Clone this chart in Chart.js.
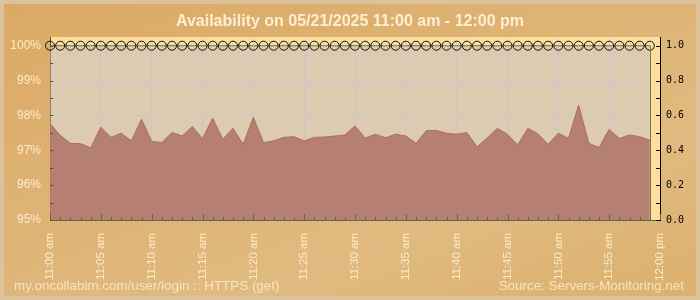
<!DOCTYPE html>
<html>
<head>
<meta charset="utf-8">
<script src="https://cdn.jsdelivr.net/npm/chart.js@4/dist/chart.umd.min.js"></script>
<style>
  html, body { margin: 0; padding: 0; background: #dcb372; }
  #wrap {
    position: relative; width: 700px; height: 300px; box-sizing: border-box;
    border: 4px solid #dcc29a;
    background: linear-gradient(160deg, #dba965 0%, #deb374 40%, #e0ba80 70%, #dcb06e 100%);
    overflow: hidden;
  }
  #c { position: absolute; left: -4px; top: -4px; }
  .txt { position: absolute; font-family: "Liberation Sans", Arial, sans-serif; white-space: nowrap; }
  #title { left: 0; width: 692px; top: 8px; text-align: center; font-size: 16px; font-weight: bold; color: #fcefd2; }
  #foot-l { left: 10px; top: 274px; font-size: 13.4px; color: rgba(252,236,205,0.85); }
  #foot-r { right: 12px; top: 274px; font-size: 13.4px; color: rgba(252,236,205,0.85); }
</style>
</head>
<body>
<div id="wrap">
  <canvas id="c" width="700" height="300"></canvas>
  <div id="title" class="txt">Availability on 05/21/2025 11:00 am - 12:00 pm</div>
  <div id="foot-l" class="txt">my.oncollabim.com/user/login :: HTTPS (get)</div>
  <div id="foot-r" class="txt">Source: Servers-Monitoring.net</div>
</div>
<script>
// ---- data ----
const categories = [
  "11:00 am","11:01 am","11:02 am","11:03 am","11:04 am","11:05 am","11:06 am","11:07 am","11:08 am","11:09 am",
  "11:10 am","11:11 am","11:12 am","11:13 am","11:14 am","11:15 am","11:16 am","11:17 am","11:18 am","11:19 am",
  "11:20 am","11:21 am","11:22 am","11:23 am","11:24 am","11:25 am","11:26 am","11:27 am","11:28 am","11:29 am",
  "11:30 am","11:31 am","11:32 am","11:33 am","11:34 am","11:35 am","11:36 am","11:37 am","11:38 am","11:39 am",
  "11:40 am","11:41 am","11:42 am","11:43 am","11:44 am","11:45 am","11:46 am","11:47 am","11:48 am","11:49 am",
  "11:50 am","11:51 am","11:52 am","11:53 am","11:54 am","11:55 am","11:56 am","11:57 am","11:58 am","11:59 am",
  "12:00 pm"
];
const availability = [
  97.77, 97.43, 97.20, 97.19, 97.07, 97.66, 97.37, 97.49, 97.27, 97.89,
  97.26, 97.22, 97.51, 97.41, 97.68, 97.34, 97.92, 97.32, 97.63, 97.17,
  97.95, 97.22, 97.27, 97.37, 97.39, 97.27, 97.37, 97.38, 97.41, 97.44,
  97.70, 97.35, 97.46, 97.36, 97.46, 97.41, 97.20, 97.56, 97.57, 97.49,
  97.46, 97.51, 97.10, 97.35, 97.63, 97.46, 97.15, 97.63, 97.47, 97.17,
  97.49, 97.34, 98.30, 97.20, 97.08, 97.60, 97.34, 97.44, 97.39, 97.29
];
const status = [
  1,1,1,1,1,1,1,1,1,1, 1,1,1,1,1,1,1,1,1,1, 1,1,1,1,1,1,1,1,1,1,
  1,1,1,1,1,1,1,1,1,1, 1,1,1,1,1,1,1,1,1,1, 1,1,1,1,1,1,1,1,1,1
];
const leftTicks = [95, 95.5, 96, 96.5, 97, 97.5, 98, 98.5, 99, 99.5, 100];
const rightTicks = [0, 0.1, 0.2, 0.3, 0.4, 0.5, 0.6, 0.7, 0.8, 0.9, 1.0];
const xLabelEvery = 5;

// ---- plugins ----
const panelPlugin = {
  id: 'panel',
  beforeDraw(chart) {
    const {ctx, chartArea: a} = chart;
    ctx.save();
    ctx.fillStyle = '#fedd9f';
    ctx.fillRect(a.left, a.top, a.right - a.left, a.bottom - a.top);
    ctx.restore();
  },
  beforeDatasetsDraw(chart) {
    const {ctx, chartArea: a, scales} = chart;
    const xe = scales.x.getPixelForValue(status.length - 1);
    ctx.save();
    ctx.fillStyle = '#fedd9f';
    ctx.fillRect(xe, a.top, a.right - xe, a.bottom - a.top);
    ctx.restore();
  },
  afterDatasetsDraw(chart) {
    const {ctx, chartArea: a, scales} = chart;
    const xe = Math.round(scales.x.getPixelForValue(status.length - 1)) + 0.5;
    const yt = scales.y2.getPixelForValue(1);
    ctx.save();
    ctx.strokeStyle = '#6f7a3c';
    ctx.lineWidth = 1;
    ctx.beginPath(); ctx.moveTo(xe, yt); ctx.lineTo(xe, a.bottom); ctx.stroke();
    // inner tick marks
    const x = scales.x, y = scales.y, y2 = scales.y2;
    ctx.strokeStyle = '#5f6b3f';
    x.ticks.forEach((t, i) => {
      const px = Math.round(x.getPixelForTick(i)) + 0.5;
      const len = (i % xLabelEvery === 0) ? 6 : 3;
      ctx.beginPath(); ctx.moveTo(px, a.bottom); ctx.lineTo(px, a.bottom - len); ctx.stroke();
    });
    ctx.strokeStyle = '#6b4a1f';
    y.ticks.forEach((t, i) => {
      const py = Math.round(y.getPixelForTick(i)) + 0.5;
      ctx.beginPath(); ctx.moveTo(a.left, py); ctx.lineTo(a.left + 3, py); ctx.stroke();
    });
    ctx.strokeStyle = '#000';
    y2.ticks.forEach((t, i) => {
      const py = Math.round(y2.getPixelForTick(i)) + 0.5;
      ctx.beginPath(); ctx.moveTo(a.right, py); ctx.lineTo(a.right - 4, py); ctx.stroke();
    });
    ctx.restore();
  }
};

const cream = '#fcecc9';
new Chart(document.getElementById('c'), {
  type: 'line',
  data: {
    labels: categories,
    datasets: [
      {
        label: 'Availability',
        data: availability,
        yAxisID: 'y',
        fill: 'start',
        backgroundColor: 'rgba(179,120,110,0.93)',
        borderColor: '#ad6c62',
        borderWidth: 1,
        pointRadius: 0,
        tension: 0,
        order: 0
      },
      {
        label: 'Status',
        data: status,
        yAxisID: 'y2',
        fill: 'start',
        backgroundColor: 'rgba(186,185,194,0.5)',
        borderColor: '#6f7a3c',
        borderWidth: 1,
        pointRadius: 4.5,
        pointBorderColor: '#111',
        pointBackgroundColor: 'rgba(0,0,0,0)',
        pointBorderWidth: 1,
        tension: 0,
        order: 1
      }
    ]
  },
  options: {
    responsive: false,
    animation: false,
    devicePixelRatio: 1,
    layout: { padding: { top: 37, left: 0, right: 0, bottom: 0 } },
    plugins: { legend: { display: false }, tooltip: { enabled: false }, title: { display: false } },
    scales: {
      x: {
        type: 'category',
        offset: false,
        border: { color: '#5f6b3f', width: 1 },
        grid: {
          drawTicks: false,
          color: (c) => (c.index % xLabelEvery === 0 && c.index > 0 && c.index < categories.length - 1) ? '#d6d6d6' : 'rgba(0,0,0,0)'
        },
        ticks: {
          autoSkip: false, maxRotation: 90, minRotation: 90, padding: 13,
          color: cream,
          font: { family: 'Liberation Sans', size: 11.5 },
          callback: (v, i) => (i % xLabelEvery === 0) ? categories[i] : ''
        },
        afterFit: (s) => { s.height = 80; }
      },
      y: {
        position: 'left',
        min: 95, max: 100.25,
        border: { color: '#6b4a1f', width: 1 },
        afterBuildTicks: (s) => { s.ticks = leftTicks.map(v => ({ value: v })); },
        grid: {
          drawTicks: false,
          color: (c) => (c.tick && Number.isInteger(c.tick.value) && c.tick.value > 95) ? '#d6d6d6' : 'rgba(0,0,0,0)'
        },
        ticks: {
          padding: 9, color: cream,
          font: { family: 'Liberation Sans', size: 12 },
          callback: (v) => Number.isInteger(v) ? v + '%' : ''
        },
        afterFit: (s) => { s.width = 50; }
      },
      y2: {
        position: 'right',
        min: 0, max: 1.05,
        border: { color: '#000', width: 1 },
        afterBuildTicks: (s) => { s.ticks = rightTicks.map(v => ({ value: v })); },
        grid: { display: false, drawTicks: false },
        ticks: {
          padding: 6, color: '#000',
          font: { family: 'DejaVu Sans Mono', size: 10 },
          callback: (v) => (Math.round(v * 10) % 2 === 0) ? v.toFixed(1) : ''
        },
        afterFit: (s) => { s.width = 40; }
      }
    }
  },
  plugins: [panelPlugin]
});
</script>
</body>
</html>
